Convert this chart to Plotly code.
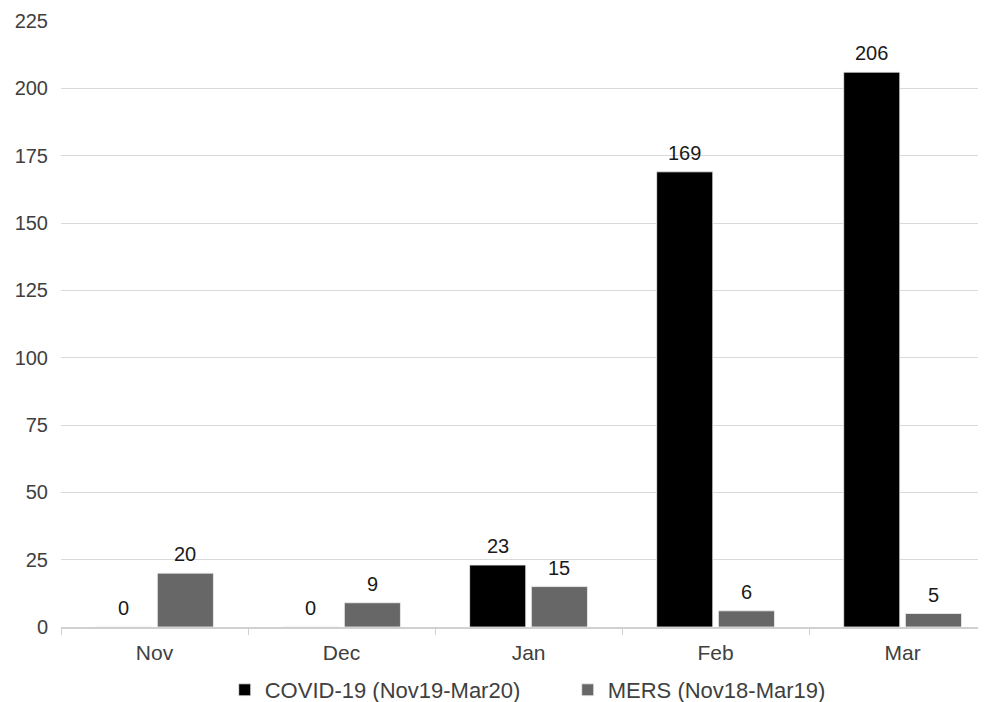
import plotly.graph_objects as go

months = ["Nov", "Dec", "Jan", "Feb", "Mar"]
covid = [0, 0, 23, 169, 206]
mers = [20, 9, 15, 6, 5]
covid_name = "COVID-19 (Nov19-Mar20)"
mers_name = "MERS (Nov18-Mar19)"
y_ticks = [0, 25, 50, 75, 100, 125, 150, 175, 200, 225]

FONT = "Liberation Sans, Arial, sans-serif"
BAR_W = 0.3
OFFSETS = {"covid": -0.315, "mers": 0.015}

fig = go.Figure()
series = [
    ("covid", covid_name, covid, "#000000"),
    ("mers", mers_name, mers, "#676767"),
]
for key, name, vals, color in series:
    fig.add_trace(go.Bar(
        x=months, y=vals, name=name,
        width=BAR_W, offset=OFFSETS[key],
        marker=dict(color=color, line=dict(color="#f0f0f0", width=0.8)),
        cliponaxis=False,
    ))
    # value labels above each bar
    for i, v in enumerate(vals):
        fig.add_annotation(
            x=i + OFFSETS[key] + BAR_W / 2, y=v, xref="x", yref="y",
            text=str(v), showarrow=False, yanchor="bottom", yshift=6,
            font=dict(size=20, color="#1a1a1a", family=FONT),
        )

fig.update_layout(
    width=978, height=702,
    margin=dict(l=53, r=0, t=13, b=83, autoexpand=False),
    paper_bgcolor="white", plot_bgcolor="white",
    barmode="overlay",
    font=dict(family=FONT, size=20, color="#404040"),
    showlegend=True,
    legend=dict(orientation="h", x=0.177, xanchor="left", y=-0.104, yanchor="middle",
                font=dict(size=22, color="#404040"),
                itemwidth=30, entrywidth=298, entrywidthmode="pixels",
                traceorder="normal"),
)
fig.update_xaxes(
    type="category", range=[-0.5, 4.446],
    showgrid=False, showline=True, linecolor="#d0d0d0", linewidth=1.5,
    tickson="boundaries", ticks="outside", ticklen=6, tickcolor="#d0d0d0",
    tickfont=dict(size=21, color="#404040"), ticklabelstandoff=6,
)
fig.update_yaxes(
    range=[0, 225], tickvals=y_ticks,
    showgrid=True, gridcolor="#d9d9d9", gridwidth=1.2,
    zeroline=False, showline=False, ticks="",
    tickfont=dict(size=20, color="#404040"), ticklabelstandoff=12,
)

fig.write_html("out.html")
